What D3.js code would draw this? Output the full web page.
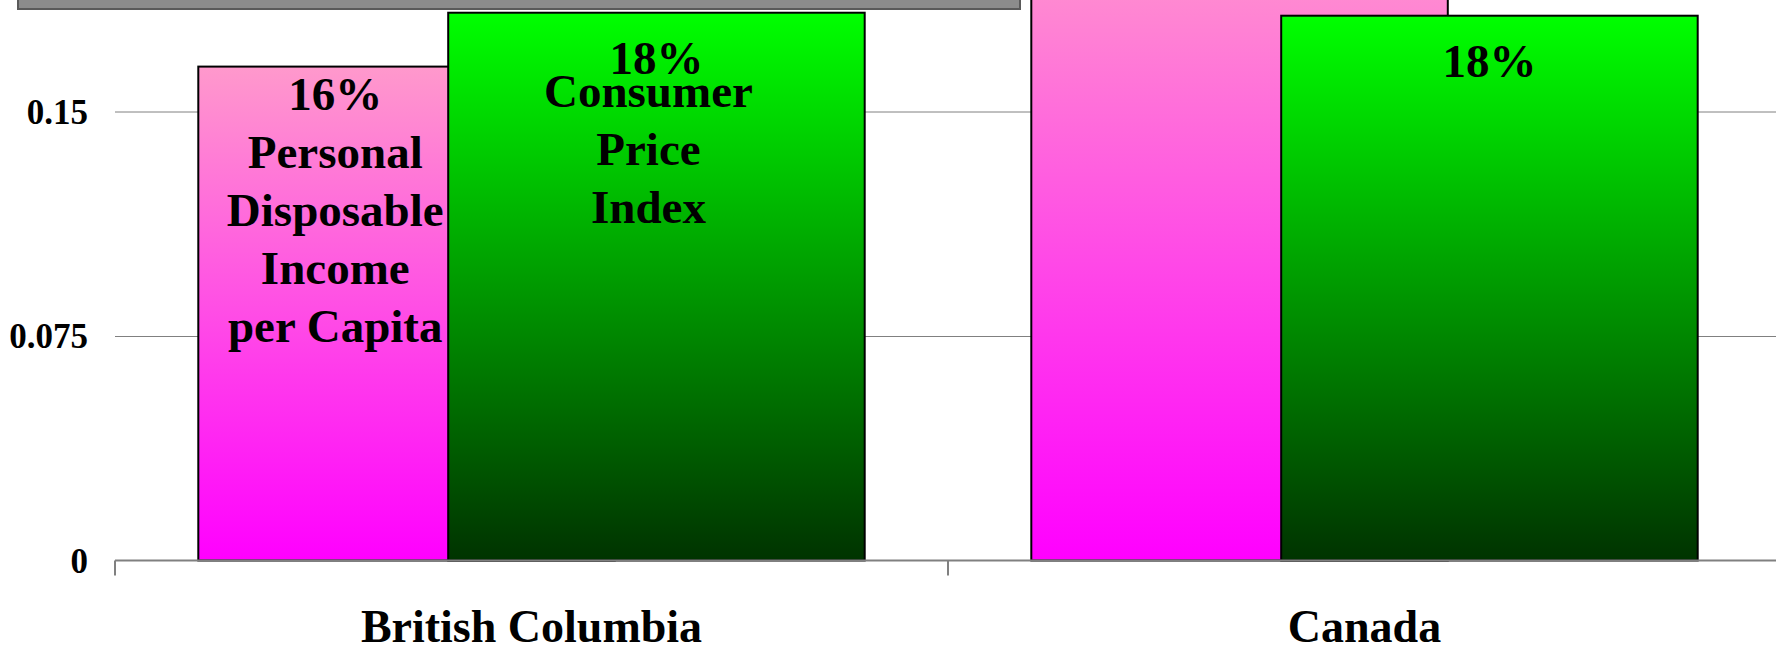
<!DOCTYPE html>
<html>
<head>
<meta charset="utf-8">
<script src="https://cdn.jsdelivr.net/npm/d3@7"></script>
<style>
  body { margin: 0; background: #fff; }
  svg { display: block; }
  text { font-family: "Liberation Serif", "Times New Roman", serif; font-weight: bold; fill: #000; }
</style>
</head>
<body>
<div id="chart"></div>
<script>
var categories = ["British Columbia", "Canada"];
var seriesNames = ["Personal Disposable Income per Capita", "Consumer Price Index"];
var pdiValues = [0.165, 0.21];
var cpiValues = [0.183, 0.182];
var pdiLabels = ["16%", "21%"];
var cpiLabels = ["18%", "18%"];
var pdiNameLines = ["Personal", "Disposable", "Income", "per Capita"];
var cpiNameLines = ["Consumer", "Price", "Index"];
var yTicks = [0, 0.075, 0.15];
var yTickLabels = ["0", "0.075", "0.15"];

function draw_chart(element) {
    var W = 1776, H = 649;
    var svg = d3.select("#" + element).append("svg").attr("width", W).attr("height", H);

    var left = 115, bandW = 833;
    var x = d3.scaleBand().domain(categories).range([left, left + bandW * categories.length]);
    var y = d3.scaleLinear().domain([0, 0.15]).range([560.5, 111.5]);

    var defs = svg.append("defs");
    var gp = defs.append("linearGradient").attr("id", "gpink").attr("x1", 0).attr("y1", 0).attr("x2", 0).attr("y2", 1);
    gp.append("stop").attr("offset", "0%").attr("stop-color", "#ff99cc");
    gp.append("stop").attr("offset", "100%").attr("stop-color", "#ff00ff");
    var gg = defs.append("linearGradient").attr("id", "ggreen").attr("x1", 0).attr("y1", 0).attr("x2", 0).attr("y2", 1);
    gg.append("stop").attr("offset", "0%").attr("stop-color", "#00ff00");
    gg.append("stop").attr("offset", "100%").attr("stop-color", "#003300");

    // gridlines
    svg.append("g")
        .attr("class", "grid")
        .attr("transform", "translate(" + left + ",0)")
        .call(d3.axisLeft(y).tickValues([0.075, 0.15]).tickSize(-(W - left)).tickFormat(""))
        .call(function (g) { g.select(".domain").remove(); })
        .selectAll("line").attr("stroke", "#808080").attr("stroke-width", 1);

    // y labels
    svg.append("g")
        .attr("transform", "translate(" + left + ",0)")
        .call(d3.axisLeft(y).tickValues(yTicks).tickSize(0).tickPadding(27)
            .tickFormat(function (d, i) { return yTickLabels[i]; }))
        .call(function (g) { g.select(".domain").remove(); })
        .selectAll("text")
        .attr("font-size", "35px")
        .attr("font-family", "'Liberation Serif', 'Times New Roman', serif")
        .attr("font-weight", "bold")
        .attr("dy", "0.34em");

    var barW = x.bandwidth() / 2;

    var groups = svg.selectAll(".gr")
        .data(categories)
        .enter().append("g")
        .attr("class", "gr");

    groups.append("rect")
        .attr("x", function (d) { return x(d) + 0.2 * barW; })
        .attr("y", function (d, i) { return y(pdiValues[i]); })
        .attr("width", barW)
        .attr("height", function (d, i) { return y(0) - y(pdiValues[i]); })
        .attr("fill", "url(#gpink)")
        .attr("stroke", "#000")
        .attr("stroke-width", 2);

    groups.append("rect")
        .attr("x", function (d) { return x(d) + 0.8 * barW; })
        .attr("y", function (d, i) { return y(cpiValues[i]); })
        .attr("width", barW)
        .attr("height", function (d, i) { return y(0) - y(cpiValues[i]); })
        .attr("fill", "url(#ggreen)")
        .attr("stroke", "#000")
        .attr("stroke-width", 2);

    // x axis line and boundary ticks
    var bounds = categories.map(function (c) { return x(c); }).concat([x.range()[1]]);
    svg.append("line")
        .attr("x1", left).attr("x2", W)
        .attr("y1", y(0)).attr("y2", y(0))
        .attr("stroke", "#808080").attr("stroke-width", 2);
    svg.selectAll(".btick")
        .data(bounds)
        .enter().append("line")
        .attr("class", "btick")
        .attr("x1", function (d) { return d; }).attr("x2", function (d) { return d; })
        .attr("y1", y(0)).attr("y2", y(0) + 15)
        .attr("stroke", "#808080").attr("stroke-width", 2);

    // category labels
    svg.selectAll(".cat")
        .data(categories)
        .enter().append("text")
        .attr("class", "cat")
        .attr("x", function (d) { return x(d) + x.bandwidth() / 2; })
        .attr("y", 642)
        .attr("text-anchor", "middle")
        .attr("font-size", "46px")
        .text(function (d) { return d; });

    // value labels
    groups.append("text")
        .attr("x", function (d) { return x(d) + 0.2 * barW + 0.6 * barW / 2 + 12; })
        .attr("y", function (d, i) { return y(pdiValues[i]) + 43; })
        .attr("text-anchor", "middle")
        .attr("font-size", "47px")
        .text(function (d, i) { return pdiLabels[i]; });

    groups.append("text")
        .attr("x", function (d) { return x(d) + 1.3 * barW; })
        .attr("y", function (d, i) { return y(cpiValues[i]) + 61; })
        .attr("text-anchor", "middle")
        .attr("font-size", "47px")
        .text(function (d, i) { return cpiLabels[i]; });

    // series name labels on the first category
    var c0 = categories[0];
    svg.append("text")
        .attr("text-anchor", "middle")
        .attr("font-size", "47px")
        .selectAll("tspan")
        .data(pdiNameLines)
        .enter().append("tspan")
        .attr("x", x(c0) + 0.2 * barW + 0.6 * barW / 2 + 12)
        .attr("y", function (d, i) { return y(pdiValues[0]) + 101 + i * 58; })
        .text(function (d) { return d; });

    svg.append("text")
        .attr("text-anchor", "middle")
        .attr("font-size", "47px")
        .selectAll("tspan")
        .data(cpiNameLines)
        .enter().append("tspan")
        .attr("x", x(c0) + 1.3 * barW - 8)
        .attr("y", function (d, i) { return y(cpiValues[0]) + 94 + i * 58; })
        .text(function (d) { return d; });

    // clipped box at the top
    svg.append("rect")
        .attr("x", 18).attr("y", -20)
        .attr("width", 1002).attr("height", 29)
        .attr("fill", "#8c8c8c")
        .attr("stroke", "#5a5a5a").attr("stroke-width", 2);
}

draw_chart("chart");
</script>
</body>
</html>
